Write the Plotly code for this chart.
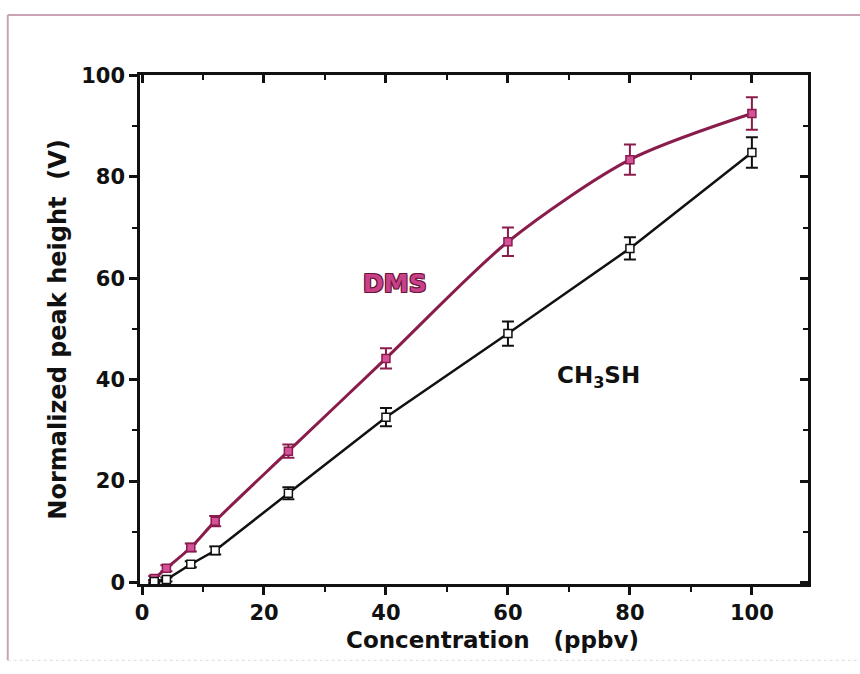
import plotly.graph_objects as go

# Concentration levels (ppbv)
concentration = [2, 4, 8, 12, 24, 40, 60, 80, 100]

# Normalized peak heights (V) with their error bars
dms_height = [0.8, 2.8, 6.9, 12.1, 25.9, 44.2, 67.2, 83.4, 92.5]
dms_error = [0.5, 0.6, 0.8, 1.0, 1.3, 2.0, 2.8, 3.0, 3.2]

ch3sh_height = [0.2, 0.6, 3.6, 6.3, 17.6, 32.6, 49.1, 65.9, 84.8]
ch3sh_error = [0.3, 0.4, 0.6, 0.8, 1.2, 1.8, 2.4, 2.2, 3.0]

x_ticks = [0, 20, 40, 60, 80, 100]
y_ticks = [0, 20, 40, 60, 80, 100]

DMS_LINE = "#8a1c4c"
DMS_FILL = "#d4529a"
BLACK = "#111111"
FONT = "DejaVu Sans"

fig = go.Figure()

# DMS: smooth curve, then markers with error bars
fig.add_trace(go.Scatter(
    x=concentration, y=dms_height, mode="lines",
    line=dict(color=DMS_LINE, width=3, shape="spline", smoothing=0.8),
    hoverinfo="skip", showlegend=False,
))
fig.add_trace(go.Scatter(
    x=concentration, y=dms_height, mode="markers", name="DMS",
    marker=dict(symbol="square", size=8, color=DMS_FILL,
                line=dict(color=DMS_LINE, width=1.5)),
    error_y=dict(type="data", array=dms_error, visible=True,
                 color=DMS_LINE, thickness=2, width=6),
    showlegend=False,
))

# CH3SH: straight segments, open square markers with error bars
fig.add_trace(go.Scatter(
    x=concentration, y=ch3sh_height, mode="lines",
    line=dict(color=BLACK, width=2.5),
    hoverinfo="skip", showlegend=False,
))
fig.add_trace(go.Scatter(
    x=concentration, y=ch3sh_height, mode="markers", name="CH3SH",
    marker=dict(symbol="square", size=8, color="white",
                line=dict(color=BLACK, width=1.5)),
    error_y=dict(type="data", array=ch3sh_error, visible=True,
                 color=BLACK, thickness=2, width=6),
    showlegend=False,
))

x_range = [-0.33, 109.2]
y_range = [-0.3, 100.1]

axis_common = dict(
    showgrid=False, zeroline=False, showline=True,
    linecolor=BLACK, linewidth=2.5,
    ticks="outside", ticklen=8, tickwidth=2.5, tickcolor=BLACK,
    tickfont=dict(family=FONT, size=21, color=BLACK, weight="bold"),
    minor=dict(ticks="outside", ticklen=5, tickwidth=2, tickcolor=BLACK, dtick=10),
)

mirror_common = dict(
    showgrid=False, zeroline=False, showline=True,
    linecolor=BLACK, linewidth=2.5, showticklabels=False,
    ticks="inside", ticklen=8, tickwidth=2.5, tickcolor=BLACK,
    minor=dict(ticks="inside", ticklen=5, tickwidth=2, tickcolor=BLACK, dtick=10),
)

fig.update_layout(
    width=860, height=674,
    margin=dict(l=140, r=52, t=75, b=90),
    paper_bgcolor="white", plot_bgcolor="white",
    font=dict(family=FONT, color=BLACK),
    xaxis=dict(range=x_range, tickvals=x_ticks, **axis_common),
    yaxis=dict(
        range=y_range, tickvals=y_ticks, **axis_common,
        title=dict(text="Normalized peak height  (V)", standoff=8,
                   font=dict(family=FONT, size=24, color=BLACK, weight="bold")),
    ),
    # Mirror frame on the top and right with inward ticks
    xaxis2=dict(overlaying="x", side="top", range=x_range, tickvals=x_ticks, **mirror_common),
    yaxis2=dict(overlaying="y", side="right", range=y_range, tickvals=y_ticks, **mirror_common),
    annotations=[
        # x-axis title, set slightly right of the plot centre
        dict(x=0.527, y=-0.081, xref="paper", yref="paper", text="Concentration   (ppbv)",
             showarrow=False, xanchor="center", yanchor="top",
             font=dict(family=FONT, size=23, color=BLACK, weight="bold")),
        dict(x=41.5, y=59, xref="x", yref="y", text="DMS", showarrow=False,
             font=dict(family=FONT, size=25, color="#c8428a", weight="bold",
                       shadow="1px 1px 0 #6a1238, -1px -1px 0 #6a1238, 1px -1px 0 #6a1238, -1px 1px 0 #6a1238")),
        dict(x=74.8, y=40.5, xref="x", yref="y", text="CH<sub>3</sub>SH", showarrow=False,
             font=dict(family=FONT, size=23, color=BLACK, weight="bold")),
    ],
    shapes=[
        # thin page border
        dict(type="line", xref="paper", yref="paper", x0=-0.198, x1=1.08, y0=1.118, y1=1.118,
             line=dict(color="#c9a3b6", width=2)),
        dict(type="line", xref="paper", yref="paper", x0=-0.198, x1=-0.198, y0=-0.15, y1=1.118,
             line=dict(color="#c9a3b6", width=2)),
        dict(type="line", xref="paper", yref="paper", x0=-0.198, x1=1.08, y0=-0.15, y1=-0.15,
             line=dict(color="#dddddd", width=1, dash="dot")),
    ],
)

# Invisible trace to activate the mirrored axes
fig.add_trace(go.Scatter(x=[None], y=[None], xaxis="x2", yaxis="y2",
                         showlegend=False, hoverinfo="skip"))

fig.write_html("out.html")
